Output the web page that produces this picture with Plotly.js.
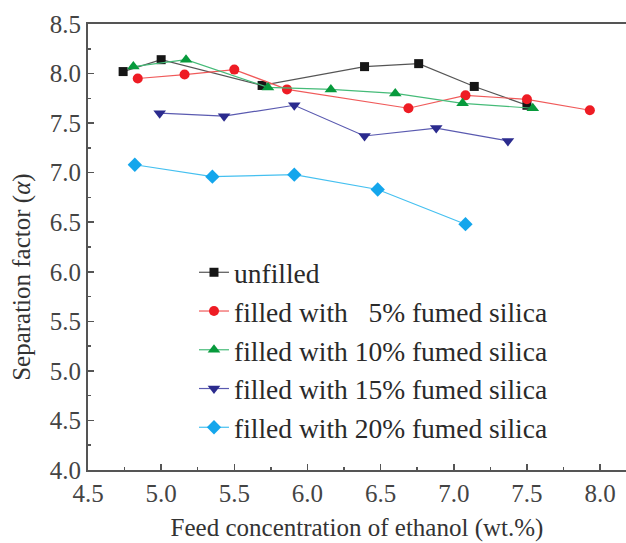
<!DOCTYPE html>
<html>
<head>
<meta charset="utf-8">
<script src="https://cdn.plot.ly/plotly-3.0.1.min.js"></script>
<style>html,body{margin:0;padding:0;background:#fff;}#chart{width:626px;height:543px;}</style>
</head>
<body>
<div id="chart"></div>
<script>
// Data
const seriesNames = ["unfilled", "filled with\u00a0\u00a0\u00a05% fumed silica", "filled with 10% fumed silica", "filled with 15% fumed silica", "filled with 20% fumed silica"];
const xUnfilled = [4.74, 5.00, 5.69, 6.39, 6.76, 7.14, 7.50];
const yUnfilled = [8.02, 8.14, 7.88, 8.07, 8.10, 7.87, 7.68];
const x5 = [4.84, 5.16, 5.50, 5.86, 6.69, 7.08, 7.50, 7.93];
const y5 = [7.95, 7.99, 8.04, 7.84, 7.65, 7.78, 7.74, 7.63];
const x10 = [4.81, 5.17, 5.73, 6.16, 6.60, 7.06, 7.54];
const y10 = [8.07, 8.14, 7.86, 7.84, 7.80, 7.70, 7.65];
const x15 = [4.99, 5.43, 5.91, 6.39, 6.88, 7.37];
const y15 = [7.60, 7.57, 7.68, 7.37, 7.45, 7.32];
const x20 = [4.82, 5.35, 5.91, 6.48, 7.08];
const y20 = [7.08, 6.96, 6.98, 6.83, 6.48];

const xTitle = "Feed concentration of ethanol (wt.%)";
const yTitle = "Separation factor (<i>α</i>)";

const FONT = "Liberation Serif";

function tr(x, y, name, symbol, size, mcolor, lcolor) {
  return {
    x: x, y: y, name: name, type: "scatter", mode: "lines+markers",
    line: {color: lcolor, width: 1.2},
    marker: {symbol: symbol, size: size, color: mcolor, line: {width: 0}}
  };
}

const data = [
  tr(xUnfilled, yUnfilled, seriesNames[0], "square", 9, "#161616", "#555555"),
  tr(x5, y5, seriesNames[1], "circle", 10, "#ee1c24", "#f05a5a"),
  tr(x10, y10, seriesNames[2], "triangle-up", 11, "#079a3c", "#45bb78"),
  tr(x15, y15, seriesNames[3], "triangle-down", 11, "#2b2b8e", "#5a5ab0"),
  tr(x20, y20, seriesNames[4], "diamond", 11, "#14a6ec", "#45c0f0")
];

const layout = {
  width: 626, height: 543,
  margin: {l: 88, r: 0, t: 24, b: 73, pad: 0},
  paper_bgcolor: "#fff", plot_bgcolor: "#fff",
  font: {family: FONT, size: 25, color: "#333"},
  showlegend: true,
  legend: {
    x: 0.197, y: 0.498, xanchor: "left", yanchor: "top",
    bgcolor: "rgba(0,0,0,0)", borderwidth: 0,
    font: {family: FONT, size: 27.5, color: "#2a2a2a"},
    itemwidth: 30, tracegroupgap: 0
  },
  xaxis: {
    range: [4.5, 8.177], dtick: 0.5, tick0: 4.5, tickformat: ".1f",
    showgrid: false, zeroline: false,
    showline: true, linecolor: "#555", linewidth: 2, mirror: true,
    ticks: "inside", ticklen: 6, tickwidth: 1.5, tickcolor: "#555",
    minor: {dtick: 0.25, ticks: "inside", ticklen: 3, tickwidth: 1.5, tickcolor: "#555", showgrid: false},
    tickfont: {family: FONT, size: 25, color: "#444"},
    title: {text: xTitle, font: {family: FONT, size: 25, color: "#333"}, standoff: 12}
  },
  yaxis: {
    range: [4, 8.5], dtick: 0.5, tick0: 4, tickformat: ".1f",
    showgrid: false, zeroline: false,
    showline: true, linecolor: "#555", linewidth: 2, mirror: false,
    ticks: "inside", ticklen: 6, tickwidth: 1.5, tickcolor: "#555",
    minor: {dtick: 0.25, ticks: "inside", ticklen: 3, tickwidth: 1.5, tickcolor: "#555", showgrid: false},
    tickfont: {family: FONT, size: 25, color: "#444"}
  },
  annotations: [{
    text: yTitle, xref: "paper", yref: "paper",
    x: -0.1227, y: 0.433, xanchor: "center", yanchor: "middle",
    textangle: -90, showarrow: false,
    font: {family: FONT, size: 25, color: "#333"}
  }]
};

Plotly.newPlot("chart", data, layout, {displayModeBar: false, staticPlot: true});
</script>
</body>
</html>
